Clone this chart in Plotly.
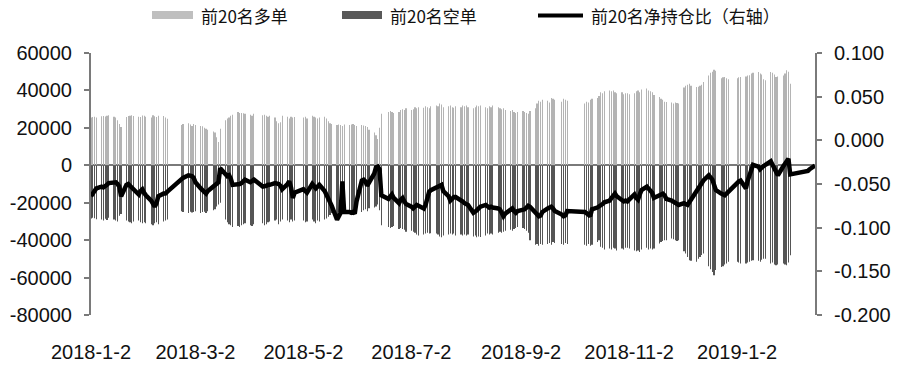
import pandas as pd
import plotly.graph_objects as go

# ---------------- data ----------------
start_date = "2018-01-02"
end_date = "2019-02-15"
market_holidays = [
    "2018-02-15", "2018-02-16", "2018-02-19", "2018-02-20", "2018-02-21",
    "2018-04-05", "2018-04-06", "2018-04-30", "2018-05-01", "2018-06-18",
    "2018-09-24", "2018-10-01", "2018-10-02", "2018-10-03", "2018-10-04",
    "2018-10-05", "2018-12-31", "2019-01-01", "2019-02-04", "2019-02-05",
    "2019-02-06", "2019-02-07", "2019-02-08",
]

series_names = ["前20名多单", "前20名空单", "前20名净持仓比（右轴）"]

long_2018_01 = [25500, 25800, 26000, 25600, 26200, 26400, 26100, 26500, 26800, 26000, 25500,
                24000, 22000, 20500, 25800, 26300, 26500, 26800, 26400, 26000, 25800, 26600]
long_2018_02 = [26500, 26000, 25500, 26800, 26200, 25800, 26500, 26300, 25500, 24800, 21500,
                22000, 22500, 21800, 21000]
long_2018_03 = [22000, 21500, 21000, 20800, 20000, 19500, 19000, 18000, 17500, 15000, 12500,
                19500, 24000, 25000, 25500, 26500, 27000, 28500, 28000, 28000, 27800, 27500]
long_2018_04 = [27000, 26500, 27500, 26800, 27000, 26500, 26000, 26500, 25500, 23500, 22500,
                23000, 26500, 26000, 25000, 26000, 25500, 25800]
long_2018_05 = [25500, 26000, 25000, 26500, 26000, 25500, 25000, 25500, 26000, 25000, 23500,
                22500, 22000, 21500, 21800, 21500, 21000, 21800, 21500, 21800, 22000, 21500]
long_2018_06 = [21000, 21500, 21200, 21000, 20500, 19000, 17500, 16000, 14000, 20000, 27500,
                28500, 29000, 28500, 28000, 28500, 29500, 30000, 29500, 30500]
long_2018_07 = [29500, 30000, 31000, 30500, 31000, 30800, 31500, 31000, 30500, 31500, 32000,
                31500, 33000, 32500, 31000, 31500, 32000, 31000, 30800, 31500, 31000, 32000]
long_2018_08 = [31500, 32000, 31000, 30500, 31000, 32000, 31500, 32000, 31000, 30500, 31500,
                31000, 32000, 31000, 30500, 30000, 30500, 29500, 29000, 29500, 28500, 28000, 28500]
long_2018_09 = [29000, 28500, 28000, 27500, 29000, 30500, 33000, 34500, 34000, 35000, 34500,
                33500, 36000, 35500, 35000, 34000, 35500, 35000, 34500]
long_2018_10 = [33000, 34000, 33500, 35000, 35500, 36000, 37000, 39000, 38500, 39500, 40000,
                39500, 40000, 39000, 38500, 39000, 38000, 38500]
long_2018_11 = [38500, 38000, 38500, 39500, 40000, 39000, 40500, 41000, 40000, 39500, 39000,
                37500, 36500, 35500, 35000, 34000, 33800, 33500, 33000, 33500, 33300, 33000]
long_2018_12 = [41500, 42500, 43000, 43600, 42500, 41800, 42000, 42500, 43000, 44500, 48000,
                49500, 50000, 51000, 50500, 46500, 47000, 47200, 46500, 46000]
long_2019_01 = [46500, 47000, 47200, 47500, 48000, 48100, 49000, 49500, 49800, 49000, 48500,
                46000, 45400, 49800, 49500, 48500, 47200, 47500, 48000, 49000, 50800, 50000]
long_2019_02 = [43600, None, None, None, None, None]

short_2018_01 = [-28500, -28000, -28300, -28800, -29000, -29500, -28600, -29200, -28000, -29000, -29500,
                 -30000, -27000, -26000, -29500, -30000, -30500, -31000, -30000, -29500, -30500, -31000]
short_2018_02 = [-30500, -31000, -31500, -32000, -31000, -30500, -31500, -30000, -29500, -29000, -24500,
                 -25000, -25500, -24800, -25200]
short_2018_03 = [-25000, -24500, -25500, -25000, -24800, -25500, -24500, -24000, -23500, -22000, -21000,
                 -20000, -29000, -30500, -31500, -32000, -33000, -32500, -33000, -32000, -31500, -31000]
short_2018_04 = [-32000, -32500, -31500, -31000, -32000, -31500, -30500, -30000, -29500, -29000, -31500,
                 -30000, -29000, -29500, -30500, -29000, -30000, -29500]
short_2018_05 = [-29500, -30500, -30000, -29000, -30000, -31000, -29500, -30000, -29000, -28500, -27500,
                 -26500, -25500, -26000, -25000, -24500, -25000, -24000, -25500, -24500, -25000, -24000]
short_2018_06 = [-24500, -25000, -24000, -23500, -24500, -23000, -22500, -22000, -21000, -24000, -32000,
                 -33000, -33500, -33000, -32500, -34000, -33500, -34000, -34500, -35500]
short_2018_07 = [-35000, -35500, -36000, -37000, -37500, -37000, -36500, -36000, -36500, -36300, -36500,
                 -37000, -38000, -38500, -37500, -37000, -36500, -37000, -36500, -37500, -37000, -37500]
short_2018_08 = [-37000, -37500, -37000, -38000, -37500, -38500, -38000, -38300, -37500, -36500, -37000,
                 -36500, -37000, -36000, -35500, -36000, -35500, -35000, -34500, -35000, -34000, -33500, -33000]
short_2018_09 = [-33500, -34000, -35000, -36000, -40000, -42500, -42000, -43000, -42000, -42500, -42000,
                 -41500, -42500, -41000, -41500, -42000, -42500, -41500, -42000]
short_2018_10 = [-42500, -43000, -42000, -43000, -42500, -41000, -40000, -43500, -44000, -45000, -44500,
                 -45000, -44000, -44500, -45500, -44500, -45000, -44000]
short_2018_11 = [-44000, -44500, -45500, -46000, -45500, -46300, -45000, -44000, -45000, -44500, -45000,
                 -44500, -41800, -41000, -40500, -40000, -40000, -39100, -39500, -40000, -40500, -40000]
short_2018_12 = [-46000, -47200, -49000, -50800, -51000, -51600, -50000, -49000, -48000, -47200, -54000,
                 -55500, -57000, -58800, -56000, -54300, -54000, -53000, -52500, -51600]
short_2019_01 = [-51600, -52000, -52500, -52500, -52000, -51500, -51000, -50800, -51000, -51500, -50500,
                 -49900, -50000, -52500, -52000, -53000, -53400, -53000, -52500, -53000, -53400, -52000]
short_2019_02 = [-48100, None, None, None, None, None]

ratio_2018_01 = [-0.064, -0.060, -0.058, -0.055, -0.053, -0.054, -0.053, -0.051, -0.049, -0.048, -0.048,
                 -0.050, -0.053, -0.064, -0.051, -0.050, -0.052, -0.053, -0.055, -0.062, -0.058, -0.056]
ratio_2018_02 = [-0.060, -0.063, -0.069, -0.072, -0.076, -0.072, -0.064, -0.061, -0.061, -0.059, -0.046,
                 -0.043, -0.040, -0.040, -0.041]
ratio_2018_03 = [-0.043, -0.048, -0.055, -0.057, -0.060, -0.061, -0.058, -0.053, -0.051, -0.049, -0.048,
                 -0.032, -0.040, -0.041, -0.040, -0.044, -0.051, -0.051, -0.050, -0.049, -0.046, -0.045]
ratio_2018_04 = [-0.048, -0.046, -0.045, -0.053, -0.053, -0.052, -0.051, -0.051, -0.049, -0.049, -0.050,
                 -0.052, -0.056, -0.050, -0.047, -0.054, -0.066, -0.060]
ratio_2018_05 = [-0.056, -0.058, -0.060, -0.050, -0.052, -0.055, -0.053, -0.051, -0.058, -0.062, -0.066,
                 -0.071, -0.075, -0.091, -0.086, -0.083, -0.047, -0.082, -0.082, -0.083, -0.082, -0.084]
ratio_2018_06 = [-0.070, -0.046, -0.045, -0.047, -0.052, -0.048, -0.038, -0.031, -0.030, -0.033, -0.063,
                 -0.067, -0.064, -0.062, -0.066, -0.072, -0.068, -0.066, -0.070, -0.073]
ratio_2018_07 = [-0.076, -0.078, -0.076, -0.074, -0.075, -0.078, -0.074, -0.066, -0.059, -0.057, -0.054,
                 -0.053, -0.051, -0.051, -0.058, -0.064, -0.069, -0.067, -0.065, -0.065, -0.068, -0.070]
ratio_2018_08 = [-0.072, -0.073, -0.074, -0.083, -0.082, -0.080, -0.078, -0.076, -0.074, -0.076, -0.077,
                 -0.076, -0.077, -0.078, -0.079, -0.083, -0.087, -0.084, -0.079, -0.078, -0.081, -0.083, -0.081]
ratio_2018_09 = [-0.080, -0.079, -0.077, -0.075, -0.076, -0.082, -0.085, -0.087, -0.086, -0.082, -0.078,
                 -0.077, -0.076, -0.078, -0.081, -0.085, -0.087, -0.086, -0.081]
ratio_2018_10 = [-0.082, -0.083, -0.085, -0.087, -0.079, -0.077, -0.076, -0.074, -0.073, -0.071, -0.069,
                 -0.066, -0.064, -0.061, -0.064, -0.068, -0.070, -0.069]
ratio_2018_11 = [-0.070, -0.068, -0.062, -0.066, -0.068, -0.062, -0.057, -0.053, -0.055, -0.057, -0.060,
                 -0.066, -0.063, -0.061, -0.061, -0.063, -0.067, -0.069, -0.070, -0.071, -0.072, -0.074]
ratio_2018_12 = [-0.072, -0.073, -0.074, -0.071, -0.068, -0.058, -0.055, -0.053, -0.050, -0.046, -0.040,
                 -0.042, -0.045, -0.051, -0.057, -0.061, -0.062, -0.063, -0.061, -0.059]
ratio_2019_01 = [-0.048, -0.047, -0.046, -0.055, -0.046, -0.040, -0.034, -0.028, -0.030, -0.033, -0.031,
                 -0.030, -0.028, -0.024, -0.028, -0.032, -0.036, -0.040, -0.030, -0.027, -0.023, -0.021]
ratio_2019_02 = [-0.039, -0.035, -0.033, -0.032, -0.030, -0.029]

x_tick_dates = ["2018-01-02", "2018-03-02", "2018-05-02", "2018-07-02",
                "2018-09-02", "2018-11-02", "2019-01-02"]
x_tick_labels = ["2018-1-2", "2018-3-2", "2018-5-2", "2018-7-2",
                 "2018-9-2", "2018-11-2", "2019-1-2"]
left_tick_values = [-80000, -60000, -40000, -20000, 0, 20000, 40000, 60000]
left_tick_labels = ["-80000", "-60000", "-40000", "-20000", "0", "20000", "40000", "60000"]
right_tick_values = [-0.2, -0.15, -0.1, -0.05, 0.0, 0.05, 0.1]
right_tick_labels = ["-0.200", "-0.150", "-0.100", "-0.050", "0.000", "0.050", "0.100"]

# ---------------- assemble ----------------
trade_dates = [d for d in pd.bdate_range(start_date, end_date)
               if d.strftime("%Y-%m-%d") not in market_holidays]
long_vals = (long_2018_01 + long_2018_02 + long_2018_03 + long_2018_04 + long_2018_05 +
             long_2018_06 + long_2018_07 + long_2018_08 + long_2018_09 + long_2018_10 +
             long_2018_11 + long_2018_12 + long_2019_01 + long_2019_02)
short_vals = (short_2018_01 + short_2018_02 + short_2018_03 + short_2018_04 + short_2018_05 +
              short_2018_06 + short_2018_07 + short_2018_08 + short_2018_09 + short_2018_10 +
              short_2018_11 + short_2018_12 + short_2019_01 + short_2019_02)
ratio_vals = (ratio_2018_01 + ratio_2018_02 + ratio_2018_03 + ratio_2018_04 + ratio_2018_05 +
              ratio_2018_06 + ratio_2018_07 + ratio_2018_08 + ratio_2018_09 + ratio_2018_10 +
              ratio_2018_11 + ratio_2018_12 + ratio_2019_01 + ratio_2019_02)
assert len(trade_dates) == len(long_vals) == len(short_vals) == len(ratio_vals), (
    len(trade_dates), len(long_vals), len(short_vals), len(ratio_vals))

# ---------------- styling ----------------
W, H = 900, 366
PL, PR, PT, PB = 91, 815, 53, 315
AXIS_GRAY = "#7a7a7a"
LONG_COLOR = "#bfbfbf"
SHORT_COLOR = "#595959"
LONG_BAR_COLOR = "#b4b4b4"
SHORT_BAR_COLOR = "#555555"
TICK_FONT = dict(family="Liberation Sans, Arial, sans-serif", size=20, color="#111111")
LEGEND_FONT = dict(family="Noto Sans CJK SC, sans-serif", size=17, color="#111111")
DAY_MS = 86400000
BAR_W = 0.12 * DAY_MS   # very thin: plotly snaps it to a ~1px bar


def px_x(px):
    return (px - PL) / (PR - PL)


def px_y(py):
    return (PB - py) / (PB - PT)


fig = go.Figure()
fig.add_trace(go.Bar(x=trade_dates, y=long_vals, name=series_names[0],
                     marker=dict(color=LONG_BAR_COLOR, line=dict(width=0)),
                     width=BAR_W, showlegend=False))
fig.add_trace(go.Bar(x=trade_dates, y=short_vals, name=series_names[1],
                     marker=dict(color=SHORT_BAR_COLOR, line=dict(width=0)),
                     width=BAR_W, showlegend=False))
fig.add_trace(go.Scatter(x=trade_dates, y=ratio_vals, name=series_names[2], yaxis="y2",
                         mode="lines", line=dict(color="#000000", width=4.5),
                         showlegend=False))

# custom legend (wide swatches as in the original)
fig.add_shape(type="rect", xref="paper", yref="paper",
              x0=px_x(152), x1=px_x(193), y0=px_y(19), y1=px_y(11),
              fillcolor=LONG_COLOR, line=dict(width=0))
fig.add_shape(type="rect", xref="paper", yref="paper",
              x0=px_x(342), x1=px_x(382), y0=px_y(19), y1=px_y(11),
              fillcolor=SHORT_COLOR, line=dict(width=0))
fig.add_shape(type="line", xref="paper", yref="paper",
              x0=px_x(538), x1=px_x(583), y0=px_y(15.5), y1=px_y(15.5),
              line=dict(color="#000000", width=4))
for name, xpx in zip(series_names, [199, 388, 589]):
    fig.add_annotation(text=name, xref="paper", yref="paper", x=px_x(xpx), y=px_y(15.5),
                       xanchor="left", yanchor="middle", showarrow=False, font=LEGEND_FONT)

fig.update_layout(
    width=W, height=H,
    margin=dict(l=PL, r=W - PR, t=PT, b=H - PB, pad=0),
    paper_bgcolor="white", plot_bgcolor="white",
    barmode="relative", bargap=0.5,
    showlegend=False,
    xaxis=dict(type="date", range=[start_date, end_date], automargin=False,
               tickvals=x_tick_dates, ticktext=x_tick_labels,
               showgrid=False, zeroline=False, showline=False, ticks="",
               tickfont=TICK_FONT, ticklabelstandoff=23),
    yaxis=dict(range=[-80000, 60000], automargin=False,
               tickvals=left_tick_values, ticktext=left_tick_labels,
               showgrid=False, zeroline=True, zerolinecolor=AXIS_GRAY, zerolinewidth=2,
               showline=True, linecolor=AXIS_GRAY, linewidth=2,
               ticks="outside", ticklen=5, tickwidth=2, tickcolor=AXIS_GRAY,
               tickfont=TICK_FONT, ticklabelstandoff=8),
    yaxis2=dict(range=[-0.2, 0.1], automargin=False,
                tickvals=right_tick_values, ticktext=right_tick_labels,
                overlaying="y", side="right",
                showgrid=False, zeroline=False,
                showline=True, linecolor=AXIS_GRAY, linewidth=2,
                ticks="outside", ticklen=5, tickwidth=2, tickcolor=AXIS_GRAY,
                tickfont=TICK_FONT, ticklabelstandoff=8),
)

fig.write_html("out.html")
